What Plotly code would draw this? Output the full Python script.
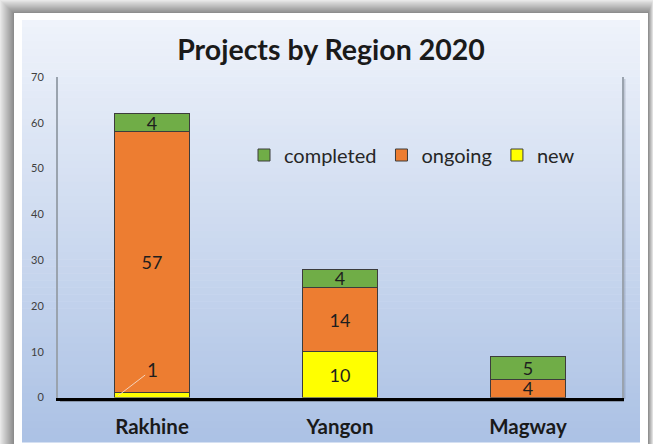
import plotly.graph_objects as go

# ---- data ----
regions = ["Rakhine", "Yangon", "Magway"]
new_vals = [1, 10, 0]
ongoing_vals = [57, 14, 4]
completed_vals = [4, 4, 5]
y_ticks = [0, 10, 20, 30, 40, 50, 60, 70]
title_text = "Projects by Region 2020"

W, H = 653, 444
FONT = "Lato, 'Open Sans', sans-serif"
BAR_W = 0.4

def px_x(p):
    return p / W

def px_y(p):
    return 1 - p / H

def lab(vals):
    return [str(v) if v >= 3 else "" for v in vals]

fig = go.Figure()
series = [
    ("new", new_vals, "#ffff00"),
    ("ongoing", ongoing_vals, "#ed7d31"),
    ("completed", completed_vals, "#70ad47"),
]
for name, vals, col in series:
    fig.add_trace(go.Bar(
        name=name, x=regions, y=vals, width=BAR_W,
        marker=dict(color=col, line=dict(color="#3c3c3c", width=1)),
        text=lab(vals), textposition="inside", insidetextanchor="middle",
        textangle=0,
        textfont=dict(size=18, color="#1e1e1e", family=FONT),
        constraintext="none", hoverinfo="skip",
    ))

# leader-line labels for segments too small to hold their value
annotations = []
for i, v in enumerate(new_vals):
    if 0 < v < 3:
        annotations.append(dict(
            x=i - BAR_W / 2 + 0.02, y=v * 0.4, xref="x", yref="y",
            text=str(v), showarrow=True, arrowhead=0, arrowwidth=1,
            arrowcolor="#f3d3bd", ax=34, ay=-26,
            font=dict(size=19, color="#1e1e1e", family=FONT),
        ))

# ---- background: shadow, frame, gradient panel ----
shapes = []
shadow_n = 14
for k in range(shadow_n):
    t = k / (shadow_n - 1)
    g = int(232 - t * (232 - 140))
    shapes.append(dict(
        type="rect", xref="paper", yref="paper", layer="below",
        x0=px_x(0 + k), x1=px_x(W - 0 - k * 0.35),
        y0=px_y(H + 10), y1=px_y(0 + k * 0.95),
        line=dict(width=0), fillcolor=f"rgb({g},{g},{g})",
    ))
shapes.append(dict(
    type="rect", xref="paper", yref="paper", layer="below",
    x0=px_x(14), x1=px_x(648), y0=px_y(H + 10), y1=px_y(13),
    line=dict(width=0), fillcolor="#ffffff",
))
top_c = (239, 243, 251)
bot_c = (172, 194, 229)
p_top, p_bot = 20, 442
n = 60
for k in range(n):
    t = k / (n - 1)
    c = tuple(int(top_c[j] + (bot_c[j] - top_c[j]) * t) for j in range(3))
    y0p = p_top + (p_bot - p_top) * k / n
    y1p = p_top + (p_bot - p_top) * (k + 1) / n
    shapes.append(dict(
        type="rect", xref="paper", yref="paper", layer="below",
        x0=px_x(22), x1=px_x(640), y0=px_y(y1p + 0.5), y1=px_y(y0p),
        line=dict(width=0), fillcolor=f"rgb{c}",
    ))
# soft shadow under the base line and beside the axis lines
shapes.append(dict(
    type="line", xref="paper", yref="paper", layer="below",
    x0=px_x(60), x1=px_x(624), y0=px_y(401), y1=px_y(401),
    line=dict(color="rgba(60,60,60,0.35)", width=2),
))
shapes.append(dict(
    type="line", xref="paper", yref="paper", layer="below",
    x0=px_x(624.5), x1=px_x(624.5), y0=px_y(399), y1=px_y(79),
    line=dict(color="rgba(90,100,120,0.25)", width=2),
))

fig.update_layout(
    width=W, height=H, autosize=False,
    margin=dict(l=0, r=0, t=0, b=0, autoexpand=False),
    paper_bgcolor="#e9e9e9", plot_bgcolor="rgba(0,0,0,0)",
    barmode="stack",
    showlegend=True,
    legend=dict(
        orientation="h", traceorder="reversed",
        x=px_x(244), y=px_y(155), xanchor="left", yanchor="middle",
        bgcolor="rgba(0,0,0,0)", font=dict(size=20, color="#262626", family=FONT),
        itemwidth=30,
    ),
    title=dict(
        text=f"<b>{title_text}</b>", x=px_x(331), xanchor="center",
        y=px_y(50), yanchor="middle", xref="paper", yref="paper",
        font=dict(size=28.5, color="#1a1a1a", family=FONT),
    ),
    uniformtext=dict(minsize=18, mode="show"),
    xaxis=dict(
        domain=[px_x(58), px_x(622)], automargin=False,
        showgrid=False, zeroline=False,
        showline=True, linecolor="#000000", linewidth=3,
        ticks="outside", ticklen=9, tickcolor="rgba(0,0,0,0)",
        tickfont=dict(size=20.5, color="#1a1a1a", family=FONT),
        tickprefix="<b>", ticksuffix="</b>",
        fixedrange=True,
    ),
    yaxis=dict(
        domain=[px_y(397.5), px_y(77)], automargin=False,
        range=[0, 70], tickvals=y_ticks,
        showgrid=False, zeroline=False,
        showline=True, linecolor="#9aa3ae", linewidth=2, mirror=True,
        ticks="outside", ticklen=10, tickcolor="rgba(0,0,0,0)",
        tickfont=dict(size=11, color="#404040", family=FONT),
        fixedrange=True,
    ),
    shapes=shapes,
    annotations=annotations,
)

fig.write_html(
    "out.html",
    config={"displayModeBar": False},
    post_script="document.body.style.margin='0';document.body.style.overflow='hidden';",
)
